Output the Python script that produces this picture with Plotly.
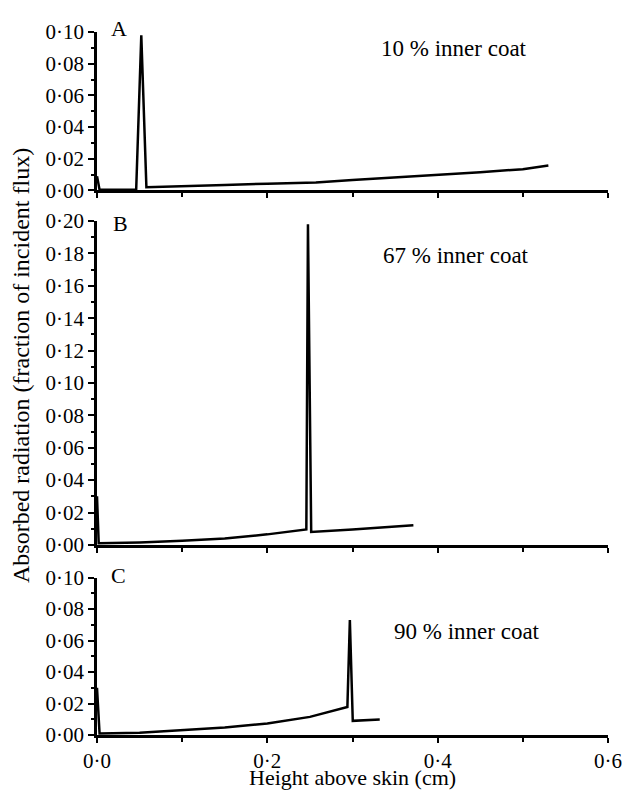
import plotly.graph_objects as go

# ---- data ----
xA = [0.0, 0.003, 0.046, 0.052, 0.058, 0.1, 0.15, 0.2, 0.257, 0.3, 0.35, 0.4, 0.45, 0.5, 0.53]
yA = [0.009, 0.0005, 0.0005, 0.098, 0.002, 0.0028, 0.0035, 0.0042, 0.005, 0.0066, 0.0081, 0.0098, 0.0115, 0.0134, 0.0157]

xB = [0.0, 0.002, 0.05, 0.1, 0.15, 0.2, 0.2458, 0.2477, 0.2515, 0.3, 0.3715]
yB = [0.03, 0.001, 0.0015, 0.0025, 0.004, 0.0065, 0.0095, 0.198, 0.008, 0.0095, 0.0122]

xC = [0.0, 0.003, 0.05, 0.1, 0.15, 0.2, 0.25, 0.294, 0.2969, 0.3003, 0.332]
yC = [0.03, 0.001, 0.0015, 0.003, 0.0048, 0.0073, 0.0115, 0.0178, 0.073, 0.009, 0.0098]

panel_letters = ["A", "B", "C"]
panel_notes = ["10 % inner coat", "67 % inner coat", "90 % inner coat"]

y_ticks_small = [0.0, 0.02, 0.04, 0.06, 0.08, 0.10]
y_ticks_large = [0.0, 0.02, 0.04, 0.06, 0.08, 0.10, 0.12, 0.14, 0.16, 0.18, 0.20]
x_ticks = [0.0, 0.2, 0.4, 0.6]

def fmt(v, nd):
    return f"{v:.{nd}f}".replace(".", "\u00b7")

FONT = "Liberation Serif"
OFF = 8  # page body margin
W, H = 634 - OFF, 791 - OFF
L, R, T, B = 97 - OFF, 17, 25 - OFF, 56
PW, PH = W - L - R, H - T - B

def px(xp):  # window pixel x -> paper
    return (xp - OFF - L) / PW

def py(yp):  # window pixel y -> paper
    return (H - B - (yp - OFF)) / PH

fig = go.Figure()
line = dict(color="black", width=2.5)
fig.add_trace(go.Scatter(x=xA, y=yA, mode="lines", line=line, xaxis="x", yaxis="y", showlegend=False))
fig.add_trace(go.Scatter(x=xB, y=yB, mode="lines", line=line, xaxis="x2", yaxis="y2", showlegend=False))
fig.add_trace(go.Scatter(x=xC, y=yC, mode="lines", line=line, xaxis="x3", yaxis="y3", showlegend=False))

domA = [py(185), 1.0]
domB = [py(543), py(216)]
domC = [0.0, py(576)]

tickfont = dict(family=FONT, size=21, color="black")

def xaxis(anchor, labels):
    return dict(
        domain=[0, 1], anchor=anchor, range=[0, 0.6],
        showline=True, linecolor="black", linewidth=2.5,
        showgrid=False, zeroline=False,
        ticks="outside", ticklen=5, tickwidth=2, tickcolor="black",
        tickmode="array", tickvals=x_ticks,
        ticktext=[fmt(v, 1) for v in x_ticks] if labels else [""] * len(x_ticks),
        showticklabels=labels, tickfont=tickfont,
        minor=dict(tickmode="array", tickvals=[0.1, 0.3, 0.5], ticks="outside", ticklen=4, tickwidth=2, tickcolor="black"),
    )

def yaxis(anchor, dom, rng, tv):
    minor_vals = [round(v + 0.01, 2) for v in tv[:-1]]
    return dict(
        domain=dom, anchor=anchor, range=rng,
        showline=True, linecolor="black", linewidth=2.5,
        showgrid=False, zeroline=False,
        ticks="outside", ticklen=6, tickwidth=2, tickcolor="black",
        tickmode="array", tickvals=tv, ticktext=[fmt(v, 2) for v in tv],
        tickfont=tickfont,
        minor=dict(tickmode="array", tickvals=minor_vals, ticks="outside", ticklen=3, tickwidth=2, tickcolor="black"),
    )

fig.update_layout(
    width=W, height=H,
    margin=dict(l=L, r=R, t=T, b=B),
    paper_bgcolor="white", plot_bgcolor="white",
    xaxis=xaxis("y", False),
    yaxis=yaxis("x", domA, [0, 0.10], y_ticks_small),
    xaxis2=xaxis("y2", False),
    yaxis2=yaxis("x2", domB, [0, 0.20], y_ticks_large),
    xaxis3=xaxis("y3", True),
    yaxis3=yaxis("x3", domC, [0, 0.10], y_ticks_small),
    font=dict(family=FONT, color="black"),
)

letter_font = dict(family=FONT, size=22, color="black")
note_font = dict(family=FONT, size=23, color="black")
letter_pos = [(119, 21), (121, 218), (119, 574)]
note_pos = [(460, 42), (462, 251), (474, 630)]
for letter, (lx, ly) in zip(panel_letters, letter_pos):
    fig.add_annotation(text=letter, x=px(lx), y=py(ly), xref="paper", yref="paper",
                       showarrow=False, xanchor="center", yanchor="middle", font=letter_font)
for note, (nx, ny) in zip(panel_notes, note_pos):
    fig.add_annotation(text=note, x=px(nx), y=py(ny), xref="paper", yref="paper",
                       showarrow=False, xanchor="center", yanchor="middle", font=note_font)

fig.add_annotation(text="Absorbed radiation (fraction of incident flux)", x=px(19), y=py(362),
                   xref="paper", yref="paper", showarrow=False, textangle=-90,
                   xanchor="center", yanchor="middle", font=dict(family=FONT, size=24, color="black"))
fig.add_annotation(text="Height above skin (cm)", x=px(357), y=py(778),
                   xref="paper", yref="paper", showarrow=False,
                   xanchor="center", yanchor="middle", font=dict(family=FONT, size=22, color="black"))

fig.write_html("out.html")
